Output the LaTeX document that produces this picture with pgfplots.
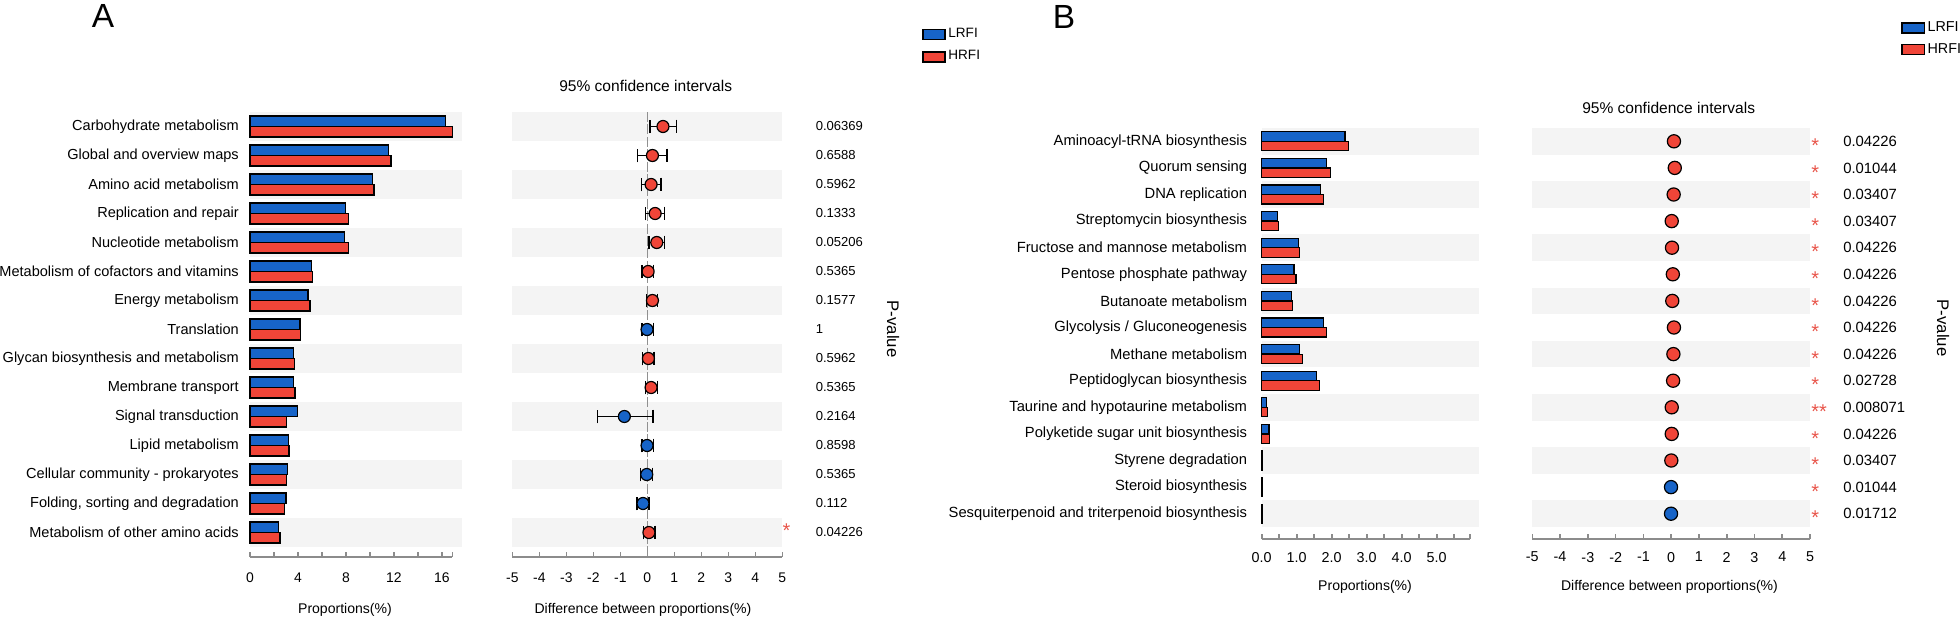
\documentclass[border=0pt]{standalone}
\usepackage{pgfplots}
\pgfplotsset{compat=1.18}
\usepackage{pgfplotstable}
\usepackage{fontspec}
\setmainfont{Liberation Sans}
\definecolor{lblue}{HTML}{1764C8}
\definecolor{hred}{HTML}{F04538}
\definecolor{band}{HTML}{F4F4F4}
\definecolor{axgray}{HTML}{8C8C8C}
\definecolor{zgray}{HTML}{909090}
\definecolor{starred}{HTML}{E8554A}
\newcommand{\fs}[1]{\fontsize{#1}{#1}\selectfont}

% Panel A: r = row from top
\pgfplotstableread{
r blue red d lo hi c
1 16.28 16.86 0.58 0.10 1.09 h
2 11.56 11.75 0.19 -0.36 0.73 h
3 10.19 10.33 0.14 -0.22 0.51 h
4 7.94 8.22 0.29 -0.06 0.63 h
5 7.89 8.22 0.35 0.06 0.63 h
6 5.14 5.19 0.03 -0.20 0.24 h
7 4.83 5.00 0.19 -0.02 0.38 h
8 4.17 4.19 -0.01 -0.20 0.22 l
9 3.64 3.72 0.04 -0.17 0.25 h
10 3.61 3.75 0.14 -0.07 0.37 h
11 3.97 3.06 -0.85 -1.84 0.21 l
12 3.22 3.25 -0.01 -0.20 0.22 l
13 3.14 3.06 -0.02 -0.26 0.20 l
14 3.00 2.86 -0.16 -0.38 0.06 l
15 2.39 2.50 0.06 -0.15 0.29 h
}\tabA

% Panel B
\pgfplotstableread{
r blue red d lo hi c
1 2.38 2.49 0.10 0.00 0.22 h
2 1.84 1.97 0.13 0.02 0.25 h
3 1.67 1.76 0.09 0.00 0.19 h
4 0.45 0.47 0.02 0.00 0.04 h
5 1.06 1.09 0.03 -0.01 0.07 h
6 0.92 0.98 0.06 0.00 0.12 h
7 0.84 0.88 0.04 0.00 0.08 h
8 1.76 1.86 0.10 0.02 0.18 h
9 1.09 1.17 0.08 0.00 0.16 h
10 1.57 1.64 0.07 0.00 0.14 h
11 0.14 0.16 0.02 0.01 0.03 h
12 0.21 0.23 0.02 0.01 0.03 h
13 0.020 0.025 0.005 0.002 0.008 h
14 0.020 0.015 -0.005 -0.008 -0.002 l
15 0.015 0.010 -0.005 -0.008 -0.002 l
}\tabB

\pgfplotsset{
  common/.style={scale only axis, anchor=north west, clip=false,
    axis line style={draw=none},
    xtick align=inside, xtick pos=left,
    major tick length=2.3bp,
    x tick style={draw=axgray, line width=0.8bp},
    ytick style={draw=none},
    /pgf/number format/assume math mode=true,
    ytick={15,14,...,1},
  },
  cipts/.style={scatter, only marks, mark=*, mark size=#1,
    scatter src=explicit symbolic,
    scatter/classes={h={mark=*, fill=hred, draw=black}, l={mark=*, fill=lblue, draw=black}},
    mark options={draw=black, line width=0.6bp}},
  cibars/.style={draw=none, mark=none, forget plot,
    error bars/.cd, x dir=both, x explicit, error mark=|,
    error bar style={draw=black, line width=0.7bp},
    error mark options={draw=black, line width=0.7bp, mark size=#1}},
}

\begin{document}
\begin{tikzpicture}
\path[use as bounding box] (0bp,0bp) rectangle (980bp,-310bp);

\node[font=\fs{16.8}] at (51.5bp,-8.2bp) {A};
\node[font=\fs{16.8}] at (532bp,-8.6bp) {B};

% ---------------- Panel A bars
\begin{axis}[common, at={(125bp,-56bp)}, width=106bp, height=222.35bp,
  xmin=0, xmax=17.667, ymin=0.1655, ymax=15.5,
  xtick={0,2,4,6,8,10,12,14,16,16.86}, xticklabels={0,,4,,8,,12,,16,},
  xticklabel style={font=\fs{7}, yshift=-4.5bp},
  yticklabels={Carbohydrate metabolism, Global and overview maps, Amino acid metabolism,
    Replication and repair, Nucleotide metabolism, Metabolism of cofactors and vitamins,
    Energy metabolism, Translation, Glycan biosynthesis and metabolism, Membrane transport,
    Signal transduction, Lipid metabolism, Cellular community - prokaryotes,
    {Folding, sorting and degradation}, Metabolism of other amino acids},
  yticklabel style={font=\fs{7.3}, xshift=-2.1bp},
  xlabel={Proportions(\%)},
  xlabel style={at={(axis description cs:0.448,0)}, anchor=center, yshift=-26.6bp, font=\fs{7.05}},
  legend style={at={(axis description cs:3.168,1.194)}, anchor=north west, draw=none, fill=none,
    inner sep=0pt, font=\fs{6.8}, row sep=2.5bp, nodes={inner sep=1.2bp}},
  legend cell align=left]
\pgfplotsinvokeforeach{1,3,5,7,9,11,13,15}{\fill[band] (axis cs:0,#1-0.5) rectangle (axis cs:17.667,#1+0.5);}
\draw[axgray, line width=0.8bp] (axis cs:0,0.1655) -- (axis cs:16.86,0.1655);
\addplot[xbar, forget plot, bar width=5.25bp, bar shift=2.63bp, fill=lblue, draw=black, line width=0.6bp]
  table[x=blue, y expr=16-\thisrow{r}] {\tabA};
\addplot[xbar, forget plot, bar width=5.25bp, bar shift=-2.63bp, fill=hred, draw=black, line width=0.6bp]
  table[x=red, y expr=16-\thisrow{r}] {\tabA};
\addlegendimage{legend image code/.code={\draw[fill=lblue, draw=black, line width=0.8bp] (0bp,-2.5bp) rectangle (11.2bp,2.5bp);}}
\addlegendentry{\fs{6.8}LRFI}
\addlegendimage{legend image code/.code={\draw[fill=hred, draw=black, line width=0.8bp] (0bp,-2.5bp) rectangle (11.2bp,2.5bp);}}
\addlegendentry{\fs{6.8}HRFI}
\end{axis}

% ---------------- Panel A CI
\begin{axis}[common, at={(256.15bp,-56bp)}, width=135bp, height=222.35bp,
  xmin=-5, xmax=5, ymin=0.1655, ymax=15.5,
  xtick={-5,-4,-3,-2,-1,0,1,2,3,4,5}, xticklabels={-5,-4,-3,-2,-1,0,1,2,3,4,5},
  xticklabel style={font=\fs{7}, yshift=-4.5bp},
  yticklabel pos=right,
  yticklabels={0.06369,0.6588,0.5962,0.1333,0.05206,0.5365,0.1577,1,0.5962,0.5365,0.2164,0.8598,0.5365,0.112,0.04226},
  yticklabel style={font=\fs{6.55}, xshift=13.2bp},
  xlabel={Difference between proportions(\%)},
  xlabel style={at={(axis description cs:0.484,0)}, anchor=center, yshift=-26.6bp, font=\fs{7.05}},
  title={95\% confidence intervals},
  every axis title/.style={at={(axis description cs:0.494,1)}, anchor=center, yshift=13bp, font=\fs{7.8}}]
\pgfplotsinvokeforeach{1,3,5,7,9,11,13,15}{\fill[band] (axis cs:-5,#1-0.5) rectangle (axis cs:5,#1+0.5);}
\draw[axgray, line width=0.8bp] (axis cs:-5,0.1655) -- (axis cs:5,0.1655);
\addplot[zgray, line width=0.8bp, dash pattern=on 5bp off 1.2bp, mark=none, forget plot] coordinates {(0,15.5) (0,0.1655)};
\addplot[cipts=3bp] table[x=d, y expr=16-\thisrow{r}, meta=c] {\tabA};
\addplot[cibars=3.4bp] table[x=d, y expr=16-\thisrow{r},
  x error plus expr=\thisrow{hi}-\thisrow{d}, x error minus expr=\thisrow{d}-\thisrow{lo}] {\tabA};
\node[anchor=base west, inner sep=0pt, text=starred, font=\fs{10}, yshift=-2.3bp] at (axis cs:5,1) {*};
\node[rotate=-90, font=\fs{8.4}] at (axis description cs:1.41,0.512) {P-value};
\end{axis}

% ---------------- Panel B bars
\begin{axis}[common, at={(630.85bp,-64bp)}, width=108.8bp, height=205.5bp,
  xmin=0, xmax=6.217, ymin=0.049, ymax=15.5,
  xtick={0,0.5,1,1.5,2,2.5,3,3.5,4,4.5,5,5.5,5.95},
  xticklabels={0.0,,1.0,,2.0,,3.0,,4.0,,5.0,,},
  xticklabel style={font=\fs{7.2}, yshift=-3bp},
  yticklabels={Aminoacyl-tRNA biosynthesis, Quorum sensing, DNA replication,
    Streptomycin biosynthesis, Fructose and mannose metabolism, Pentose phosphate pathway,
    Butanoate metabolism, Glycolysis / Gluconeogenesis, Methane metabolism,
    Peptidoglycan biosynthesis, Taurine and hypotaurine metabolism,
    Polyketide sugar unit biosynthesis, Styrene degradation, Steroid biosynthesis,
    Sesquiterpenoid and triterpenoid biosynthesis},
  yticklabel style={font=\fs{7.4}, xshift=-3.8bp},
  xlabel={Proportions(\%)},
  xlabel style={at={(axis description cs:0.475,0)}, anchor=center, yshift=-23.85bp, font=\fs{7.05}},
  legend style={at={(axis description cs:2.937,1.266)}, anchor=north west, draw=none, fill=none,
    inner sep=0pt, font=\fs{7.2}, row sep=2bp, nodes={inner sep=1.2bp}},
  legend cell align=left]
\pgfplotsinvokeforeach{1,3,5,7,9,11,13,15}{\fill[band] (axis cs:0,#1-0.5) rectangle (axis cs:6.217,#1+0.5);}
\draw[axgray, line width=0.8bp] (axis cs:0,0.049) -- (axis cs:5.95,0.049);
\addplot[xbar, forget plot, bar width=4.75bp, bar shift=2.4bp, fill=lblue, draw=black, line width=0.6bp]
  table[x=blue, y expr=16-\thisrow{r}] {\tabB};
\addplot[xbar, forget plot, bar width=4.75bp, bar shift=-2.4bp, fill=hred, draw=black, line width=0.6bp]
  table[x=red, y expr=16-\thisrow{r}] {\tabB};
\addlegendimage{legend image code/.code={\draw[fill=lblue, draw=black, line width=0.8bp] (0bp,-2.5bp) rectangle (11.2bp,2.5bp);}}
\addlegendentry{\fs{7.2}LRFI}
\addlegendimage{legend image code/.code={\draw[fill=hred, draw=black, line width=0.8bp] (0bp,-2.5bp) rectangle (11.2bp,2.5bp);}}
\addlegendentry{\fs{7.2}HRFI}
\end{axis}

% ---------------- Panel B CI
\begin{axis}[common, at={(766.15bp,-64bp)}, width=138.85bp, height=205.5bp,
  xmin=-5, xmax=5, ymin=0.049, ymax=15.5,
  xtick={-5,-4,-3,-2,-1,0,1,2,3,4,5}, xticklabels={-5,-4,-3,-2,-1,0,1,2,3,4,5},
  xticklabel style={font=\fs{7.2}, yshift=-3bp},
  yticklabel pos=right,
  yticklabels={0.04226,0.01044,0.03407,0.03407,0.04226,0.04226,0.04226,0.04226,0.04226,0.02728,0.008071,0.04226,0.03407,0.01044,0.01712},
  yticklabel style={font=\fs{7.45}, xshift=13.1bp},
  xlabel={Difference between proportions(\%)},
  xlabel style={at={(axis description cs:0.494,0)}, anchor=center, yshift=-23.85bp, font=\fs{7.05}},
  title={95\% confidence intervals},
  every axis title/.style={at={(axis description cs:0.491,1)}, anchor=center, yshift=9.85bp, font=\fs{7.8}}]
\pgfplotsinvokeforeach{1,3,5,7,9,11,13,15}{\fill[band] (axis cs:-5,#1-0.5) rectangle (axis cs:5,#1+0.5);}
\draw[axgray, line width=0.8bp] (axis cs:-5,0.049) -- (axis cs:5,0.049);
\addplot[cipts=3.3bp] table[x=d, y expr=16-\thisrow{r}, meta=c] {\tabB};
\addplot[cibars=2.2bp] table[x=d, y expr=16-\thisrow{r},
  x error plus expr=\thisrow{hi}-\thisrow{d}, x error minus expr=\thisrow{d}-\thisrow{lo}] {\tabB};
\pgfplotsinvokeforeach{1,2,3,4,6,7,8,9,10,11,12,13,14,15}{
  \node[anchor=base west, inner sep=0pt, text=starred, font=\fs{10}, yshift=-5.6bp, xshift=0.5bp] at (axis cs:5,#1) {*};}
\node[anchor=base west, inner sep=0pt, text=starred, font=\fs{10}, yshift=-5.6bp, xshift=0.5bp] at (axis cs:5,5) {**};
\node[rotate=-90, font=\fs{8.4}] at (axis description cs:1.479,0.513) {P-value};
\end{axis}
\end{tikzpicture}
\end{document}
